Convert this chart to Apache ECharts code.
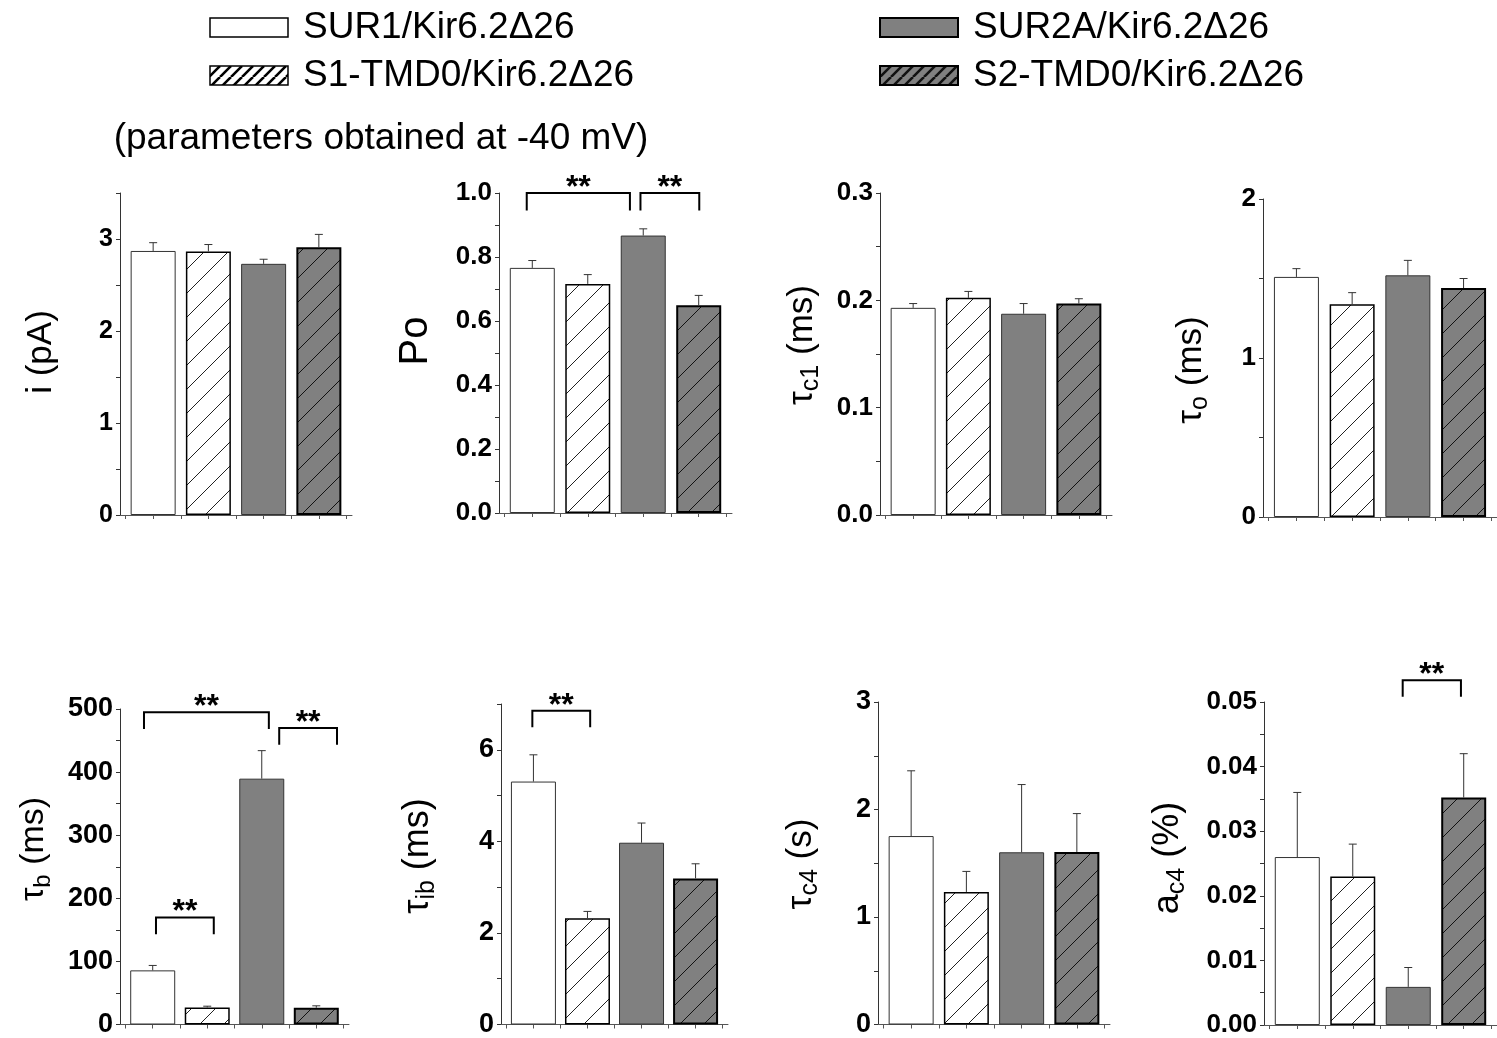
<!DOCTYPE html>
<html><head><meta charset="utf-8">
<script src="https://cdn.jsdelivr.net/npm/echarts@6/dist/echarts.min.js"></script>
<style>html,body{margin:0;padding:0;background:#fff}#c{width:1497px;height:1038px}</style>
</head><body><div id="c"></div>
<script>
// ---------------- data ----------------
const groups = ['SUR1/Kir6.2Δ26', 'S1-TMD0/Kir6.2Δ26', 'SUR2A/Kir6.2Δ26', 'S2-TMD0/Kir6.2Δ26'];
const barX = [1, 2, 3, 4];
const xTicks = [0.5, 1, 1.5, 2, 2.5, 3, 3.5, 4, 4.5];

const iMean = [2.87, 2.865, 2.73, 2.91];
const iErr = [0.09, 0.075, 0.05, 0.14];
const poMean = [0.766, 0.716, 0.867, 0.649];
const poErr = [0.023, 0.029, 0.021, 0.031];
const tc1Mean = [0.193, 0.2023, 0.1875, 0.197];
const tc1Err = [0.004, 0.006, 0.0095, 0.0045];
const toMean = [1.51, 1.338, 1.52, 1.44];
const toErr = [0.052, 0.073, 0.094, 0.06];
const tbMean = [85.8, 27, 389.6, 26.5];
const tbErr = [7.8, 2, 44.4, 3.1];
const tibMean = [5.306, 2.32, 3.97, 3.19];
const tibErr = [0.584, 0.15, 0.43, 0.32];
const tc4Mean = [1.753, 1.233, 1.602, 1.605];
const tc4Err = [0.607, 0.191, 0.63, 0.357];
const ac4Mean = [0.026, 0.023, 0.0059, 0.0352];
const ac4Err = [0.010, 0.005, 0.003, 0.0068];

// significance brackets: [xFrom, xTo, yBracket, yLegEnd]
const poBrackets = [[0.90, 2.76, 1.0, 0.945], [2.95, 4.01, 1.0, 0.945]];
const tbBrackets = [[0.84, 3.13, 494.8, 468.2], [3.32, 4.38, 469.8, 443.3], [1.06, 2.12, 169.5, 143]];
const tibBrackets = [[0.98, 2.05, 6.85, 6.49]];
const ac4Brackets = [[2.90, 3.95, 0.05335, 0.05083]];
const sigLabel = '**';

// y axis ranges: [max, minor step, major step, decimals]
const iAxis = [3.5, 0.5, 1, 0];
const poAxis = [1.0, 0.1, 0.2, 1];
const tc1Axis = [0.3, 0.05, 0.1, 1];
const toAxis = [2, 0.5, 1, 0];
const tbAxis = [500, 50, 100, 0];
const tibAxis = [7, 1, 2, 0];
const tc4Axis = [3, 0.5, 1, 0];
const ac4Axis = [0.05, 0.005, 0.01, 2];

// ---------------- styling helpers ----------------
const FF = "'Liberation Sans', Arial, Helvetica, sans-serif";
function hatchCanvas(bg, line, size, lw) {
  const c = document.createElement('canvas');
  c.width = size; c.height = size;
  const ctx = c.getContext('2d');
  if (bg) { ctx.fillStyle = bg; ctx.fillRect(0, 0, size, size); }
  ctx.strokeStyle = line; ctx.lineWidth = lw;
  ctx.beginPath();
  for (let k = -1; k <= 1; k++) { ctx.moveTo(k * size, size); ctx.lineTo(k * size + size, 0); }
  ctx.stroke();
  return c;
}
const hatchWhite = { image: hatchCanvas('#ffffff', '#222', 24, 1), repeat: 'repeat' };
const hatchGray = { image: hatchCanvas('#808080', '#111', 24, 1), repeat: 'repeat' };
const legWhite = { image: hatchCanvas('#ffffff', '#000', 11, 2.6), repeat: 'repeat' };
const legGray = { image: hatchCanvas('#808080', '#111', 11, 2.6), repeat: 'repeat' };

const barStyles = [
  { color: '#ffffff', borderColor: '#333', borderWidth: 1 },
  { color: hatchWhite, borderColor: '#000', borderWidth: 1.5 },
  { color: '#808080', borderColor: '#333', borderWidth: 1 },
  { color: hatchGray, borderColor: '#000', borderWidth: 2 }
];

// ---------------- panels layout ----------------
const panels = [
  { mean: iMean, err: iErr, ax: iAxis, br: [], fs: 25, grid: { left: 120, top: 193, width: 232, height: 322 } },
  { mean: poMean, err: poErr, ax: poAxis, br: poBrackets, fs: 26, grid: { left: 499, top: 193, width: 233, height: 320 } },
  { mean: tc1Mean, err: tc1Err, ax: tc1Axis, br: [], fs: 26, grid: { left: 880, top: 193, width: 232, height: 322 } },
  { mean: toMean, err: toErr, ax: toAxis, br: [], fs: 26, grid: { left: 1263, top: 199, width: 234, height: 318 } },
  { mean: tbMean, err: tbErr, ax: tbAxis, br: tbBrackets, fs: 27, grid: { left: 120, top: 709, width: 229, height: 320 } },
  { mean: tibMean, err: tibErr, ax: tibAxis, br: tibBrackets, fs: 27, grid: { left: 501, top: 704, width: 227, height: 327 } },
  { mean: tc4Mean, err: tc4Err, ax: tc4Axis, br: [], fs: 27, grid: { left: 878, top: 702, width: 232, height: 325 } },
  { mean: ac4Mean, err: ac4Err, ax: ac4Axis, br: ac4Brackets, fs: 26, grid: { left: 1264, top: 702, width: 233, height: 323 } }
];

const grids = [], xAxes = [], yAxes = [], series = [];
panels.forEach((p, k) => {
  grids.push(Object.assign({ containLabel: false }, p.grid));
  xAxes.push({
    gridIndex: k, type: 'value', min: 0.4, max: 4.6,
    axisLine: { show: true, onZero: false, lineStyle: { color: '#555', width: 1 } },
    axisTick: { show: true, length: 4, customValues: xTicks, lineStyle: { color: '#555' } },
    axisLabel: { show: false }, splitLine: { show: false }
  });
  const [mx, minor, major, dec] = p.ax;
  yAxes.push({
    gridIndex: k, type: 'value', min: 0, max: mx, interval: minor,
    axisLine: { show: true, lineStyle: { color: '#333', width: 1 } },
    axisTick: { show: true, length: 4, lineStyle: { color: '#333' } },
    axisLabel: {
      show: true, fontSize: p.fs, fontWeight: 'bold', color: '#000', fontFamily: FF, margin: 7,
      formatter: v => { const r = v / major; return Math.abs(r - Math.round(r)) < 1e-6 ? v.toFixed(dec) : ''; }
    },
    splitLine: { show: false }
  });
  series.push({
    type: 'bar', xAxisIndex: k, yAxisIndex: k, barWidth: 45, silent: true,
    data: barX.map((x, i) => ({ value: [x, p.mean[i]], itemStyle: barStyles[i] }))
  });
  series.push({
    type: 'custom', xAxisIndex: k, yAxisIndex: k, silent: true, z: 5,
    data: barX.map((x, i) => [x, p.mean[i], p.err[i]]),
    encode: { x: 0, y: 1 },
    renderItem: (params, api) => {
      const x = api.value(0), v = api.value(1), e = api.value(2);
      const a = api.coord([x, v]), b = api.coord([x, v + e]);
      const st = { stroke: '#333', lineWidth: 1 };
      return { type: 'group', children: [
        { type: 'line', shape: { x1: a[0], y1: a[1], x2: b[0], y2: b[1] }, style: st },
        { type: 'line', shape: { x1: b[0] - 4, y1: b[1], x2: b[0] + 4, y2: b[1] }, style: st }
      ] };
    }
  });
  if (p.br.length) {
    series.push({
      type: 'custom', xAxisIndex: k, yAxisIndex: k, silent: true, clip: false, z: 6,
      data: p.br, encode: { x: [0, 1], y: [2, 3] },
      renderItem: (params, api) => {
        const x1 = api.value(0), x2 = api.value(1), yt = api.value(2), yl = api.value(3);
        const a = api.coord([x1, yl]), b = api.coord([x1, yt]), c = api.coord([x2, yt]), d = api.coord([x2, yl]);
        return { type: 'group', children: [
          { type: 'polyline', shape: { points: [a, b, c, d] }, style: { stroke: '#000', lineWidth: 2, fill: null } },
          { type: 'text', x: (b[0] + c[0]) / 2, y: b[1] - 5,
            style: { text: sigLabel, fontSize: 32, fontWeight: 'bold', fontFamily: FF, fill: '#000', align: 'center', verticalAlign: 'middle' } }
        ] };
      }
    });
  }
});

// ---------------- texts (axis titles, legend, note) ----------------
const rich = (big) => ({
  t: { fontSize: big, fontFamily: FF, fill: '#000', lineHeight: big + 8 },
  s: { fontSize: Math.round(big * 0.7), fontFamily: FF, fill: '#000', verticalAlign: 'bottom', lineHeight: Math.round(big * 0.7) }
});
const yTitles = [
  { text: '{t|i (pA)}', x: 41, y: 352, size: 35 },
  { text: '{t|Po}', x: 416, y: 341, size: 40 },
  { text: '{t|τ}{s|c1}{t| (ms)}', x: 802, y: 345, size: 35 },
  { text: '{t|τ}{s|o}{t| (ms)}', x: 1191, y: 370, size: 35 },
  { text: '{t|τ}{s|b}{t| (ms)}', x: 34, y: 849, size: 34 },
  { text: '{t|τ}{s|ib}{t| (ms)}', x: 418, y: 856, size: 36 },
  { text: '{t|τ}{s|c4}{t| (s)}', x: 801, y: 864, size: 35 },
  { text: '{t|a}{s|c4}{t| (%)}', x: 1168, y: 858, size: 36 }
];
const graphics = yTitles.map(t => ({
  type: 'text', x: t.x, y: t.y, rotation: Math.PI / 2,
  style: { text: t.text, rich: rich(t.size), align: 'center', verticalAlign: 'middle' }
}));
const legendItems = [
  { name: groups[0], fill: '#ffffff', bw: 1.5, x: 210, y: 18 },
  { name: groups[1], fill: legWhite, bw: 1.5, x: 210, y: 66 },
  { name: groups[2], fill: '#808080', bw: 2, x: 880, y: 18 },
  { name: groups[3], fill: legGray, bw: 2, x: 880, y: 66 }
];
legendItems.forEach(l => {
  graphics.push({ type: 'rect', shape: { x: l.x, y: l.y, width: 78, height: 19 }, style: { fill: l.fill, stroke: '#000', lineWidth: l.bw } });
  graphics.push({ type: 'text', x: l.x + 93, y: l.y + 10, style: { text: l.name, fontSize: 37, fontFamily: FF, fill: '#000', align: 'left', verticalAlign: 'middle' } });
});
graphics.push({ type: 'text', x: 381, y: 139, style: { text: '(parameters obtained at -40 mV)', fontSize: 37, fontFamily: FF, fill: '#000', align: 'center', verticalAlign: 'middle' } });

const chart = echarts.init(document.getElementById('c'), null, { renderer: 'canvas' });
chart.setOption({
  animation: false, backgroundColor: '#ffffff',
  grid: grids, xAxis: xAxes, yAxis: yAxes, series: series, graphic: graphics
});
</script></body></html>
